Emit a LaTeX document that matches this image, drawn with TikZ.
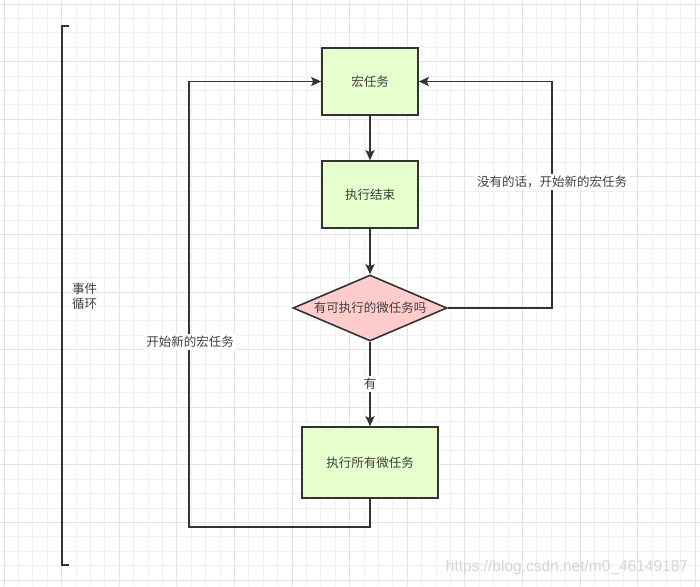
\documentclass[tikz,border=0pt]{standalone}
\usepackage{fontspec}
\setmainfont{Liberation Sans}
\newfontfamily\cjk{Noto Sans CJK SC}
\usetikzlibrary{arrows.meta,shapes.geometric}
\definecolor{linec}{HTML}{333333}
\definecolor{textc}{HTML}{404040}
\definecolor{boxgreen}{HTML}{E6FFCC}
\definecolor{diapink}{HTML}{FFCCCC}
\definecolor{gridminor}{HTML}{F0F0F0}
\definecolor{gridmajor}{HTML}{E2E2E2}
\definecolor{wmark}{HTML}{D4D4D4}
\tikzset{
  box/.style={draw=linec, line width=1.6pt, fill=boxgreen, minimum width=96pt, minimum height=67pt, inner sep=0pt, text=textc, font=\cjk\fontsize{12.5}{15}\selectfont},
  decision/.style={diamond, draw=linec, line width=1.6pt, fill=diapink, minimum width=154pt, minimum height=66pt, aspect=2.33, inner sep=0pt, text=textc, font=\cjk\fontsize{12.5}{15}\selectfont},
  conn/.style={draw=linec, line width=1.8pt, -{Stealth[length=10pt,width=9pt,inset=2pt]}},
  lbl/.style={fill=white, inner sep=2.5pt, text=textc, font=\cjk\fontsize{12.5}{15}\selectfont},
  plainlbl/.style={inner sep=0pt, text=textc, font=\cjk\fontsize{12.5}{15}\selectfont, align=left}
}
\begin{document}
\begin{tikzpicture}[x=1pt,y=-1pt]
\useasboundingbox (0,0) rectangle (700,586);
\fill[white] (0,0) rectangle (700,586);
% grid
\foreach \k in {0,...,48} {
  \pgfmathsetmacro{\xx}{4+14.4*\k}
  \draw[gridminor, line width=0.8pt] (\xx,0) -- (\xx,586);
}
\foreach \k in {0,...,40} {
  \pgfmathsetmacro{\yy}{4+14.4*\k}
  \draw[gridminor, line width=0.8pt] (0,\yy) -- (700,\yy);
}
\foreach \k in {0,...,12} {
  \pgfmathsetmacro{\xx}{4+57.6*\k}
  \draw[gridmajor, line width=0.8pt] (\xx,0) -- (\xx,586);
}
\foreach \k in {0,...,10} {
  \pgfmathsetmacro{\yy}{4+57.6*\k}
  \draw[gridmajor, line width=0.8pt] (0,\yy) -- (700,\yy);
}
% bracket
\coordinate (bt) at (69,26);
\coordinate (bb) at (69,565);
\draw[linec, line width=1.8pt] (bt) -- (62,26) -- (62,565) -- (bb);
\node[plainlbl, anchor=west] (loop) at (72,296) {事件\\循环};
% nodes
\node[box] (b1) at (370,81.5) {宏任务};
\node[box] (b2) at (370,194.5) {执行结束};
\node[decision] (d) at (370,308) {有可执行的微任务吗};
\node[box, minimum width=136pt, minimum height=71pt] (b3) at (370,462.5) {执行所有微任务};
% connectors
\draw[conn] (b1) -- (b2);
\draw[conn] (b2) -- (d);
\draw[conn] (d) -- node[lbl] (yes) {有} (b3);
\coordinate (rc) at (552,308);
\draw[conn] (d.east) -- (rc) |- (b1.east);
\node[lbl] (nolbl) at (552,182) {没有的话，开始新的宏任务};
\coordinate (lb) at (189,527);
\draw[conn] (b3.south) |- (lb) |- (b1.west);
\node[lbl] (newlbl) at (190,342) {开始新的宏任务};
% watermark
\node[text=wmark, font=\fontsize{15.5}{18}\selectfont, inner sep=0pt] (wm) at (567,567) {https://blog.csdn.net/m0\_46149187};
\end{tikzpicture}
\end{document}
